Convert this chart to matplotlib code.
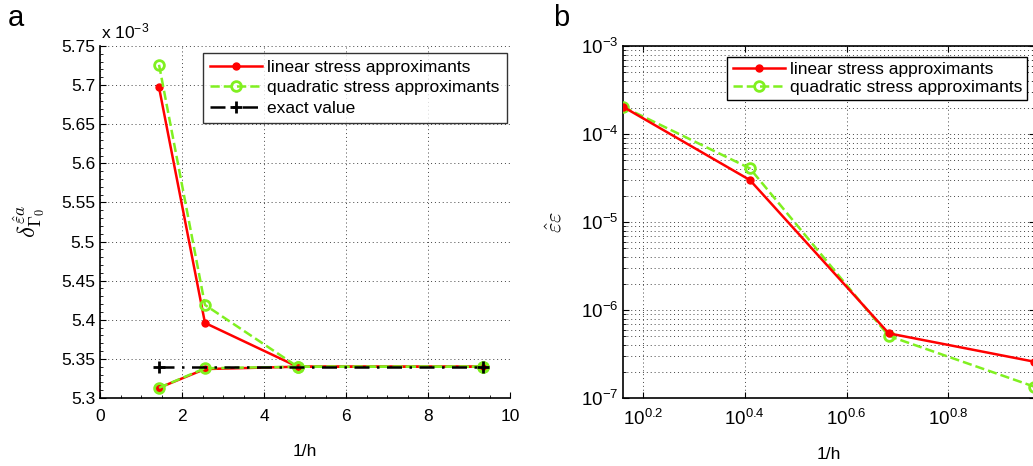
import numpy as np
import matplotlib
matplotlib.use("Agg")
import matplotlib.pyplot as plt
from matplotlib.ticker import FixedLocator, NullFormatter, LogLocator

plt.rcParams['font.family'] = ['Liberation Sans', 'DejaVu Sans']
plt.rcParams['mathtext.fontset'] = 'cm'

# ---- data panel a (values in units of 1e-3) ----
inv_h_a = [1.44, 2.56, 4.82, 9.35]
lin_upper = [5.697, 5.396, 5.340, 5.340]
lin_lower = [5.313, 5.337, 5.340, 5.340]
quad_upper = [5.726, 5.419, 5.340, 5.340]
quad_lower = [5.313, 5.338, 5.340, 5.340]
exact_x = [1.44, 9.35]
exact_y = [5.340, 5.340]
yticks_a = [5.3, 5.35, 5.4, 5.45, 5.5, 5.55, 5.6, 5.65, 5.7, 5.75]
yticklabels_a = ['5.3', '5.35', '5.4', '5.45', '5.5', '5.55', '5.6', '5.65', '5.7', '5.75']
xticks_a = [0, 2, 4, 6, 8, 10]

# ---- data panel b ----
inv_h_b = [1.447, 2.57, 4.82, 9.3]
lin_err = [2.04e-4, 3.0e-5, 5.43e-7, 2.59e-7]
quad_err = [2.04e-4, 4.07e-5, 5.07e-7, 1.35e-7]
xtick_exp_b = [0.2, 0.4, 0.6, 0.8]

RED = '#FF0000'
GREEN = '#80F020'
GRID = dict(color='#444444', linestyle=(0, (1, 3)), linewidth=0.7)
FS = 12.5

fig = plt.figure(figsize=(10.33, 4.66), dpi=100)

# ---------------- panel a ----------------
ax = fig.add_axes([100/1033, 1-398/466, 410/1033, 352/466])
ax.plot(inv_h_a, lin_upper, '-', color=RED, lw=1.8, marker='o', ms=5, mfc=RED, mec=RED,
        label='linear stress approximants', zorder=3)
ax.plot(inv_h_a, lin_lower, '-', color=RED, lw=1.8, marker='o', ms=5, mfc=RED, mec=RED, zorder=3)
ax.plot(inv_h_a, quad_upper, '--', color=GREEN, lw=1.8, marker='o', ms=7, mfc='none', mec=GREEN,
        mew=2, label='quadratic stress approximants', zorder=4)
ax.plot(inv_h_a, quad_lower, '--', color=GREEN, lw=1.8, marker='o', ms=7, mfc='none', mec=GREEN,
        mew=2, zorder=4)
ax.plot(exact_x, exact_y, '-.', color='k', lw=1.8, marker='+', ms=8, mew=2,
        label='exact value', zorder=5, dashes=(6, 3, 1, 3))
ax.set_xlim(0, 10)
ax.set_ylim(5.3, 5.75)
ax.set_xticks(xticks_a)
ax.set_yticks(yticks_a)
ax.set_yticklabels(yticklabels_a)
ax.grid(True, **GRID)
for s in ['top', 'right']:
    ax.spines[s].set_visible(False)
for s in ['left', 'bottom']:
    ax.spines[s].set_linewidth(1.2)
ax.tick_params(direction='in', labelsize=FS, length=4)
ax.tick_params(axis='x', pad=8)
ax.minorticks_on()
ax.tick_params(which='minor', direction='in', length=2)
ax.set_xlabel('1/h', fontsize=FS, labelpad=14)
ax.set_ylabel(r'$\delta^{\hat{\varepsilon}a}_{\Gamma_0}$', fontsize=18, labelpad=10)
fig.text(101/1033, 1-38/466, r'x $\mathregular{10^{-3}}$', fontsize=FS, ha='left', va='baseline')
leg = ax.legend(loc='upper right', bbox_to_anchor=(1.0, 0.99), fontsize=FS, frameon=True,
                fancybox=False, edgecolor='k', handlelength=3, borderpad=0.4, labelspacing=0.3,
                handletextpad=0.3, borderaxespad=0.2)
leg.get_frame().set_linewidth(1.0)
fig.text(8/1033, 1-18/466, 'a', fontsize=21, ha='left', va='center')

# ---------------- panel b ----------------
bx = fig.add_axes([623/1033, 1-398/466, 412/1033, 352/466])
bx.set_xscale('log')
bx.set_yscale('log')
bx.plot(inv_h_b, quad_err, '--', color=GREEN, lw=1.8, marker='o', ms=7, mfc='none', mec=GREEN,
        mew=2, label='quadratic stress approximants', zorder=3)
bx.plot(inv_h_b, lin_err, '-', color=RED, lw=1.8, marker='o', ms=5, mfc=RED, mec=RED,
        label='linear stress approximants', zorder=4)
bx.set_xlim(inv_h_b[0], inv_h_b[-1] * 1.005)
bx.set_ylim(1e-7, 1e-3)
bx.xaxis.set_major_locator(FixedLocator([10**e for e in xtick_exp_b]))
bx.set_xticklabels([r'$\mathregular{10^{%g}}$' % e for e in xtick_exp_b])
bx.xaxis.set_minor_locator(FixedLocator([]))
bx.yaxis.set_minor_locator(LogLocator(base=10, subs=np.arange(2, 10), numticks=20))
bx.yaxis.set_minor_formatter(NullFormatter())
bx.set_yticks([1e-7, 1e-6, 1e-5, 1e-4, 1e-3])
bx.set_yticklabels([r'$\mathregular{10^{%d}}$' % e for e in range(-7, -2)])
bx.grid(True, which='major', **GRID)
bx.grid(True, which='minor', axis='y', **GRID)
for s in bx.spines.values():
    s.set_linewidth(1.2)
bx.tick_params(direction='in', labelsize=13.5, length=4, top=True, right=True)
bx.tick_params(axis='x', pad=8)
bx.tick_params(which='minor', direction='in', length=2, top=True, right=True)
bx.set_xlabel('1/h', fontsize=FS, labelpad=13)
bx.set_ylabel(r'$\hat{\varepsilon}\varepsilon$', fontsize=16, labelpad=10)
handles, labels = bx.get_legend_handles_labels()
leg2 = bx.legend(handles[::-1], labels[::-1], loc='upper right', bbox_to_anchor=(0.99, 0.98),
                 fontsize=FS, frameon=True, fancybox=False, edgecolor='k', handlelength=3,
                 borderpad=0.3, labelspacing=0.15, handletextpad=0.3, borderaxespad=0.2,
                 framealpha=1)
leg2.get_frame().set_linewidth(1.0)
fig.text(553/1033, 1-18/466, 'b', fontsize=21, ha='left', va='center')

fig.savefig('out.png', dpi=100)
